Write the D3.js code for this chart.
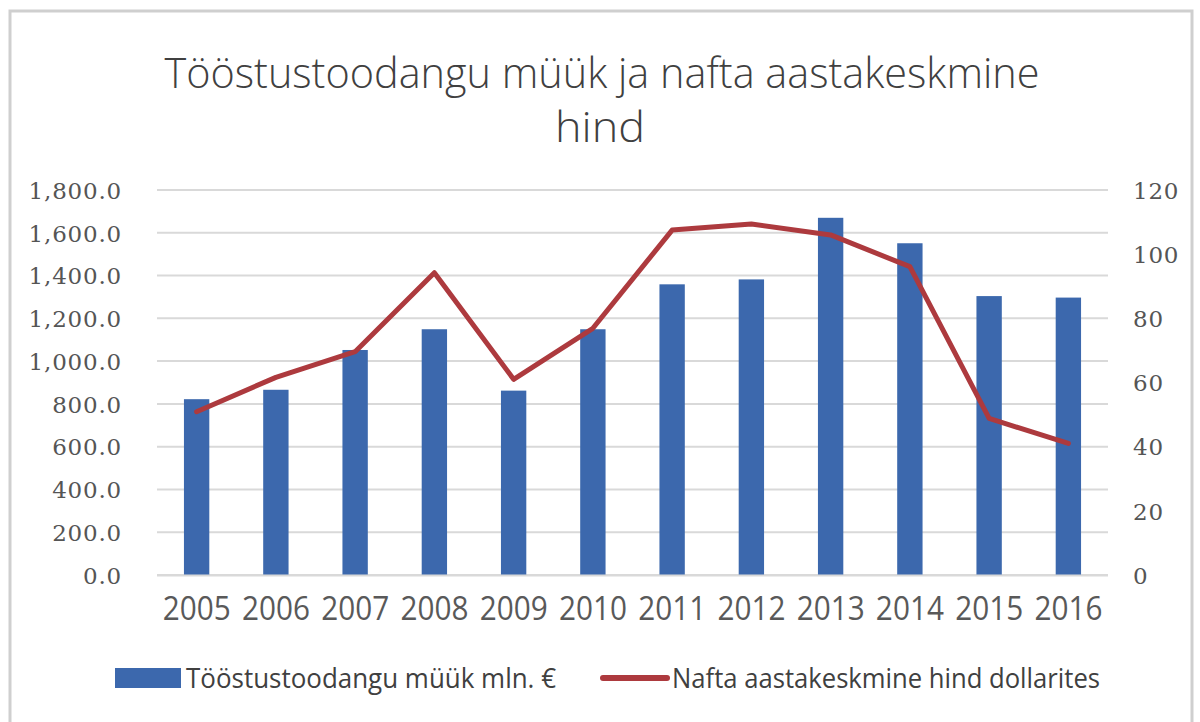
<!DOCTYPE html>
<html>
<head>
<meta charset="utf-8">
<script src="https://cdn.jsdelivr.net/npm/d3@7"></script>
<style>
  body { margin: 0; background: #fff; }
  svg { display: block; }
</style>
</head>
<body>
<div id="chart"></div>
<script>
// data
let years = ["2005", "2006", "2007", "2008", "2009", "2010", "2011", "2012", "2013", "2014", "2015", "2016"];
let sales = [822, 866, 1052, 1149, 862, 1149, 1359, 1382, 1670, 1551, 1304, 1297];
let oil = [50.9, 61.6, 69.6, 94.2, 61.0, 76.9, 107.5, 109.4, 106.0, 96.1, 48.8, 41.0];
let leftTicks = [0, 200, 400, 600, 800, 1000, 1200, 1400, 1600, 1800];
let rightTicks = [0, 20, 40, 60, 80, 100, 120];
let titleLines = ["Tööstustoodangu müük ja nafta aastakeskmine", "hind"];
let legendNames = ["Tööstustoodangu müük mln. €", "Nafta aastakeskmine hind dollarites"];

let width = 1200;
let height = 722;
let barColor = "#3c68ad";
let lineColor = "#ad3a3e";

let svg = d3.select('#chart').append('svg')
  .attr('width', width)
  .attr('height', height)

// outer frame
svg.append('rect')
  .attr('x', 10).attr('y', 11)
  .attr('width', 1182).attr('height', 730)
  .attr('fill', 'none')
  .attr('stroke', '#cfcfcf')
  .attr('stroke-width', 3)

let x = d3.scaleBand()
  .domain(years)
  .range([157, 1108])
  .paddingInner(0.68)
  .paddingOuter(0.34);

let y = d3.scaleLinear()
  .domain([0, 1800])
  .range([575, 190]);

let y2 = d3.scaleLinear()
  .domain([0, 120])
  .range([575, 190]);

// gridlines
svg.append('g')
  .selectAll('line')
  .data(leftTicks)
  .enter()
  .append('line')
  .attr('x1', 157).attr('x2', 1108)
  .attr('y1', d => y(d)).attr('y2', d => y(d))
  .attr('stroke', '#d9d9d9')
  .attr('stroke-width', 2)

// left axis
let yAxis = d3.axisLeft(y)
  .tickValues(leftTicks)
  .tickFormat(d3.format(",.1f"))
  .tickSize(0)
  .tickPadding(0);

let gy = svg.append('g')
  .attr('transform', 'translate(122,0)')
  .call(yAxis);
gy.select('.domain').remove();
gy.selectAll('text')
  .attr('fill', '#555')
  .style('font-family', '"DejaVu Serif", serif')
  .style('font-size', '23px')
  .style('letter-spacing', '0.8px')
  .attr('dy', '0.36em');

// right axis
let y2Axis = d3.axisRight(y2)
  .tickValues(rightTicks)
  .tickSize(0)
  .tickPadding(0);

let gy2 = svg.append('g')
  .attr('transform', 'translate(1133,0)')
  .call(y2Axis);
gy2.select('.domain').remove();
gy2.selectAll('text')
  .attr('fill', '#555')
  .style('font-family', '"DejaVu Serif", serif')
  .style('font-size', '23px')
  .style('letter-spacing', '0.8px')
  .attr('dy', '0.36em');

// x axis labels
let xAxis = d3.axisBottom(x).tickSize(0).tickPadding(0);
let gx = svg.append('g')
  .attr('transform', 'translate(0,597)')
  .call(xAxis);
gx.select('.domain').remove();
gx.selectAll('text')
  .attr('fill', '#595959')
  .attr('dy', '0.72em')
  .attr('textLength', 68)
  .attr('lengthAdjust', 'spacingAndGlyphs')
  .style('font-family', '"Open Sans", sans-serif')
  .style('font-size', '32px');

// bars
svg.selectAll('.bar')
  .data(sales)
  .enter()
  .append('rect').classed('bar', true)
  .attr('x', (d, i) => x(years[i]))
  .attr('width', x.bandwidth())
  .attr('y', d => y(d))
  .attr('height', d => y(0) - y(d))
  .attr('fill', barColor)

// axis base line
svg.append('line')
  .attr('x1', 157).attr('x2', 1108)
  .attr('y1', 575.5).attr('y2', 575.5)
  .attr('stroke', '#d9d9d9')
  .attr('stroke-width', 2)

// oil price line
let line = d3.line()
  .x((d, i) => x(years[i]) + x.bandwidth() / 2)
  .y(d => y2(d));

svg.append('path')
  .datum(oil)
  .attr('d', line)
  .attr('fill', 'none')
  .attr('stroke', lineColor)
  .attr('stroke-width', 5)
  .attr('stroke-linejoin', 'round')
  .attr('stroke-linecap', 'round')

// title
let title = svg.append('g');
title.append('text')
  .attr('x', 602).attr('y', 88)
  .attr('text-anchor', 'middle')
  .attr('textLength', 875)
  .attr('lengthAdjust', 'spacingAndGlyphs')
  .attr('fill', '#404040')
  .style('font-family', '"Open Sans", sans-serif')
  .style('font-weight', 300)
  .style('font-size', '43px')
  .text(titleLines[0]);
title.append('text')
  .attr('x', 600).attr('y', 142)
  .attr('text-anchor', 'middle')
  .attr('textLength', 90)
  .attr('lengthAdjust', 'spacingAndGlyphs')
  .attr('fill', '#404040')
  .style('font-family', '"Open Sans", sans-serif')
  .style('font-weight', 300)
  .style('font-size', '43px')
  .text(titleLines[1]);

// legend
let legend = svg.append('g');
legend.append('rect')
  .attr('x', 115).attr('y', 668)
  .attr('width', 66).attr('height', 20)
  .attr('fill', barColor);
legend.append('text')
  .attr('x', 186).attr('y', 688)
  .attr('textLength', 370)
  .attr('lengthAdjust', 'spacingAndGlyphs')
  .attr('fill', '#404040')
  .style('font-family', '"Open Sans", sans-serif')
  .style('font-size', '27px')
  .text(legendNames[0]);
legend.append('line')
  .attr('x1', 603).attr('x2', 667)
  .attr('y1', 678).attr('y2', 678)
  .attr('stroke', lineColor)
  .attr('stroke-width', 6)
  .attr('stroke-linecap', 'round');
legend.append('text')
  .attr('x', 672).attr('y', 688)
  .attr('textLength', 428)
  .attr('lengthAdjust', 'spacingAndGlyphs')
  .attr('fill', '#404040')
  .style('font-family', '"Open Sans", sans-serif')
  .style('font-size', '27px')
  .text(legendNames[1]);
</script>
</body>
</html>
